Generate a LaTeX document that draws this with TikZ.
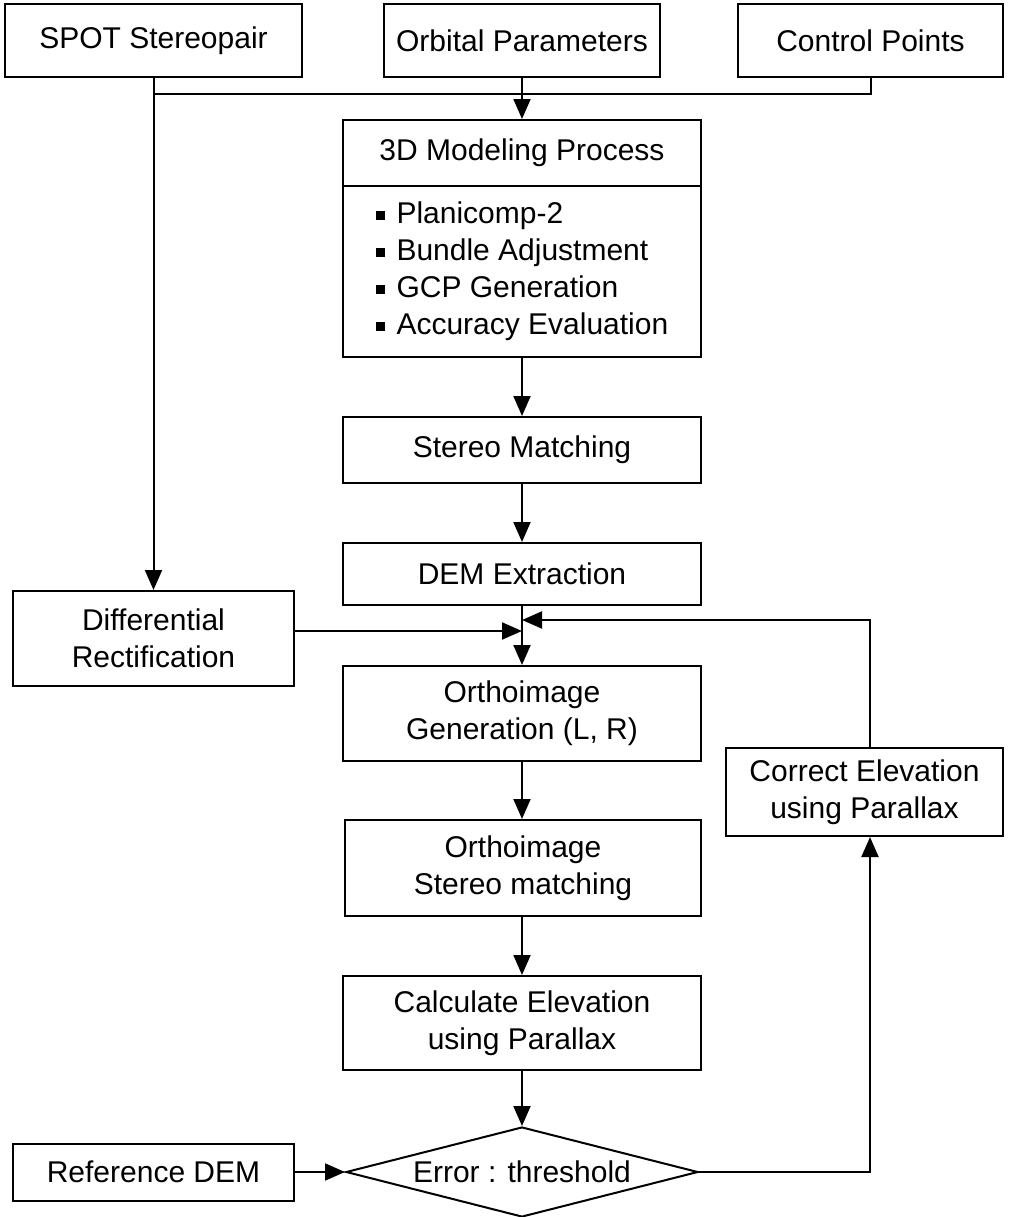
\documentclass[tikz,border=0pt]{standalone}
\usepackage{fontspec}
\setmainfont{Liberation Sans}
\usetikzlibrary{shapes.geometric, arrows.meta, positioning}

\newcommand{\itembox}{\raisebox{0.25ex}{\rule{4.4pt}{4.4pt}}\hspace{6pt}}

\begin{document}
\begin{tikzpicture}[
        x=0.5pt, y=-0.5pt,
        font=\fontsize{15pt}{18.5pt}\selectfont,
        box/.style={rectangle, draw, line width=1pt, align=center, fill=white, minimum width=179pt, inner sep=2pt},
        sbox/.style={rectangle, draw, line width=1pt, align=center, fill=white, minimum width=140.5pt, inner sep=2pt},
        dbox/.style={diamond, draw, line width=1pt, align=center, fill=white, aspect=3.9, inner sep=0pt, minimum width=176pt, minimum height=45pt},
        arrow/.style={line width=1pt, -{Triangle[length=10pt, width=8.5pt]}},
        line/.style={line width=1pt}
    ]
    \useasboundingbox (0,0) rectangle (1008,1217);

    % Nodes
    \node (spot) [sbox, minimum width=148.5pt, minimum height=36.5pt] at (153.5,40.5) {SPOT Stereopair};
    \node (orbit) [sbox, minimum width=138pt, minimum height=36.5pt] at (522,40.5) {Orbital Parameters};
    \node (ctrl) [sbox, minimum width=132.5pt, minimum height=36.5pt] at (870.5,40.5) {Control Points};

    \node (model) [box, minimum height=33pt] at (522,153) {3D Modeling Process};
    \node (modellist) [box, minimum height=85.5pt, align=left] at (522,271.5) {\itembox Planicomp-2\\\itembox Bundle Adjustment\\\itembox GCP Generation\\\itembox Accuracy Evaluation};

    \node (stereo) [box, minimum height=33pt] at (522,450) {Stereo Matching};
    \node (dem) [box, minimum height=31pt] at (522,574) {DEM Extraction};
    \node (rect) [sbox, minimum height=47.5pt] at (153.5,638.5) {Differential\\Rectification};
    \node (orthogen) [box, minimum height=47.5pt] at (522,713.5) {Orthoimage\\Generation (L, R)};
    \node (correct) [sbox, minimum width=138.5pt, minimum height=44pt] at (864.5,792) {Correct Elevation\\using Parallax};
    \node (orthomatch) [box, minimum width=178pt, minimum height=48pt] at (523,868) {Orthoimage\\Stereo matching};
    \node (calc) [box, minimum height=47pt] at (522,1023) {Calculate Elevation\\using Parallax};
    \node (error) [dbox] at (522,1172) {Error : threshold};
    \node (refdem) [sbox, minimum height=28.5pt] at (153.5,1172) {Reference DEM};

    \coordinate (bus) at (522,94);
    \coordinate (merge) at (522,631);
    \coordinate (back) at (522,620);

    % Arrows
    \draw [line] (ctrl.south) |- (spot.south |- bus);
    \draw [arrow] (orbit.south) -- (model.north);
    \draw [arrow] (spot.south) -- (rect.north);
    \draw [arrow] (modellist.south) -- (stereo.north);
    \draw [arrow] (stereo.south) -- (dem.north);
    \draw [arrow] (dem.south) -- (orthogen.north);
    \draw [arrow] (rect.east |- merge) -- (merge);
    \draw [arrow] ([xshift=2.75pt]correct.north) |- (back);
    \draw [arrow] (orthogen.south) -- (orthomatch.north -| orthogen.south);
    \draw [arrow] (orthomatch.south -| calc.north) -- (calc.north);
    \draw [arrow] (calc.south) -- (error.north);
    \draw [arrow] (refdem.east) -- (error.west);
    \draw [arrow] (error.east) -| ([xshift=2.75pt]correct.south);

\end{tikzpicture}
\end{document}
